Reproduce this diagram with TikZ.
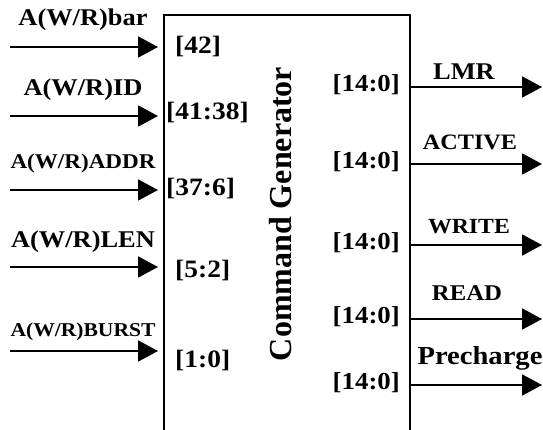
\documentclass[tikz,border=0pt]{standalone}
\usepackage{fontspec}
\setmainfont[FakeStretch=1.1]{Liberation Serif}
\newfontfamily\titlefont{Liberation Serif}
\usetikzlibrary{arrows.meta}
\begin{document}
\begin{tikzpicture}[x=1pt,y=-1pt,
  sig/.style={line width=1.8pt,-{Triangle[length=20pt,width=21pt]}},
  lab/.style={font=\bfseries\fontsize{24}{24}\selectfont,inner sep=0pt},
  bits/.style={font=\bfseries\fontsize{25}{25}\selectfont,inner sep=0pt},
  blockbox/.style={draw,line width=1.8pt,anchor=north west,inner sep=0pt,
    minimum width=246pt,minimum height=440pt}]
\useasboundingbox (0,0) rectangle (543,430);

% the generator block, open at the bottom of the page
\node[blockbox] (cg) at (163,14) {};
\node[rotate=90,inner sep=0pt,font=\titlefont\bfseries\fontsize{32}{32}\selectfont]
  (title) at (281,214) {Command Generator};

% inputs
\foreach \n/\y/\ly/\txt/\sz in {1/47/20/{A(W/R)bar}/24, 2/116/90/{A(W/R)ID}/24,
    3/190/163/{A(W/R)ADDR}/21, 4/267/242/{A(W/R)LEN}/24, 5/351/332/{A(W/R)BURST}/19.6}{
  \coordinate (in\n) at (10,\y);
  \coordinate (it\n) at (158,\y);
  \draw[sig] (in\n) -- (it\n);
  \node[lab,font=\bfseries\fontsize{\sz}{\sz}\selectfont] (il\n) at (83,\ly) {\txt};
}
\node[bits,anchor=west] (b1) at (175,47) {[42]};
\node[bits,anchor=west] (b2) at (166,113) {[41:38]};
\node[bits,anchor=west] (b3) at (166,188) {[37:6]};
\node[bits,anchor=west] (b4) at (175,270) {[5:2]};
\node[bits,anchor=west] (b5) at (175,360) {[1:0]};

% outputs
\foreach \n/\y/\ly/\lx/\txt/\sz in {1/87/72/464/LMR/24, 2/164/142/470/ACTIVE/22,
    3/245/227/469/WRITE/21.6, 4/319/293/467/READ/22.5, 5/385/358/480/Precharge/26}{
  \coordinate (os\n) at (409,\y);
  \coordinate (ot\n) at (542,\y);
  \draw[sig] (os\n) -- (ot\n);
  \node[lab,font=\bfseries\fontsize{\sz}{\sz}\selectfont] (ol\n) at (\lx,\ly) {\txt};
  \node[bits,anchor=east,font=\bfseries\fontsize{24.4}{24.4}\selectfont] (ob\n) at (400,\y-2) {[14:0]};
}
\end{tikzpicture}
\end{document}
